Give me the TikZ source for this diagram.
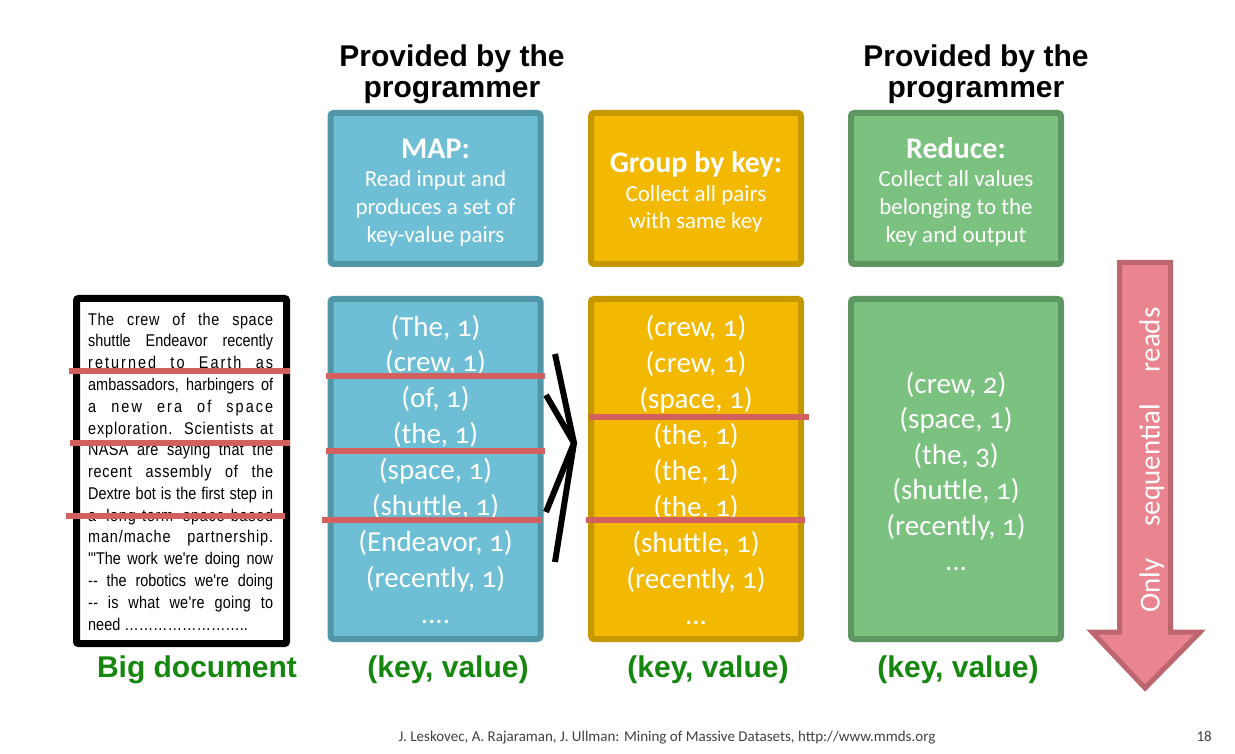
\documentclass[tikz,border=0pt]{standalone}
\usepackage{fontspec}
\usepackage{graphicx}
\setmainfont{Carlito}[Numbers=OldStyle]
\newfontfamily\headfont{Liberation Sans}
\newfontfamily\docfont{Liberation Sans}[Ligatures=ResetAll]
\newfontfamily\footfont{Carlito}

\definecolor{mapfill}{RGB}{110,191,213}
\definecolor{mapedge}{RGB}{81,150,167}
\definecolor{grpfill}{RGB}{242,185,0}
\definecolor{grpedge}{RGB}{198,152,0}
\definecolor{redfill}{RGB}{123,193,127}
\definecolor{rededge}{RGB}{94,151,98}
\definecolor{cutred}{RGB}{209,96,94}
\definecolor{arrowfill}{RGB}{234,132,143}
\definecolor{arrowedge}{RGB}{190,102,111}
\definecolor{labelgreen}{RGB}{22,135,14}
\definecolor{footgray}{RGB}{64,64,64}

\tikzset{
  stagebox/.style={rounded corners=3pt, line width=6pt, minimum width=210pt, inner sep=0pt},
  mapbox/.style={stagebox, fill=mapfill, draw=mapedge},
  grpbox/.style={stagebox, fill=grpfill, draw=grpedge},
  redbox/.style={stagebox, fill=redfill, draw=rededge},
  toptall/.style={minimum height=151pt},
  lowtall/.style={minimum height=340pt},
  docbox/.style={draw=black, line width=7pt, fill=white, rounded corners=2pt,
    minimum width=210pt, minimum height=345pt, inner sep=0pt},
  pairtext/.style={text=white, anchor=base, inner sep=0pt, font=\fontsize{29}{35}\selectfont},
  titletext/.style={text=white, anchor=base, inner sep=0pt, font=\bfseries\fontsize{30}{32}\selectfont},
  desctext/.style={text=white, anchor=base, inner sep=0pt, font=\fontsize{23}{28}\selectfont},
  headtext/.style={anchor=base, inner sep=0pt, font=\headfont\bfseries\fontsize{30}{31}\selectfont},
  greenlabel/.style={anchor=base, inner sep=0pt, text=labelgreen, font=\headfont\bfseries\fontsize{30}{31}\selectfont},
  cutline/.style={draw=cutred, line width=6pt},
  chevron/.style={draw=black, line width=6pt, line join=miter},
  foottext/.style={inner sep=0pt, text=footgray, font=\footfont\fontsize{15}{16}\selectfont},
}

% one justified line of the input document, with optional letter spacing
\newcommand{\docline}[2][0]{\makebox[217.6pt][s]{\addfontfeatures{LetterSpace=#1}#2}}
\newcommand{\fourdots}{.\kern0pt.\kern0pt.\kern0pt.}
\newcommand{\threedots}{.\kern0pt.\kern0pt.}

\begin{document}
\begin{tikzpicture}[x=1pt,y=-1pt]
\useasboundingbox (0,0) rectangle (1235,754);

% column headings
\node[headtext] (head1a) at (452,67) {Provided by the};
\node[headtext] (head1b) at (452,98) {programmer};
\node[headtext] (head2a) at (976,67) {Provided by the};
\node[headtext] (head2b) at (976,98) {programmer};

% stage boxes
\node[mapbox, toptall] (maptop) at (435.5,188.5) {};
\node[grpbox, toptall] (grptop) at (696,188.5) {};
\node[redbox, toptall] (redtop) at (956,188.5) {};
\node[mapbox, lowtall] (maplow) at (435.5,469) {};
\node[grpbox, lowtall] (grplow) at (696,469) {};
\node[redbox, lowtall] (redlow) at (956,469) {};

% stage descriptions
\node[titletext] (maptitle) at (435.5,159) {MAP:};
\node[desctext] (mapd1) at (435.5,187) {Read input and};
\node[desctext] (mapd2) at (435.5,215) {produces a set of};
\node[desctext] (mapd3) at (435.5,243) {key-value pairs};

\node[titletext] (grptitle) at (696,173) {Group by key:};
\node[desctext] (grpd1) at (696,202) {Collect all pairs};
\node[desctext] (grpd2) at (696,229) {with same key};

\node[titletext] (redtitle) at (956,159) {Reduce:};
\node[desctext] (redd1) at (956,187) {Collect all values};
\node[desctext] (redd2) at (956,215) {belonging to the};
\node[desctext] (redd3) at (956,243) {key and output};

% key-value pairs
\foreach \t [count=\i] in {{(The, 1)},{(crew, 1)},{(of, 1)},{(the, 1)},{(space, 1)},{(shuttle, 1)},{(Endeavor, 1)},{(recently, 1)},{\fourdots}}
  \node[pairtext] (mappair\i) at (435.5,{336+35.9*(\i-1)}) {\t};
\foreach \t [count=\i] in {{(crew, 1)},{(crew, 1)},{(space, 1)},{(the, 1)},{(the, 1)},{(the, 1)},{(shuttle, 1)},{(recently, 1)},{\threedots}}
  \node[pairtext] (grppair\i) at (696,{337+35.9*(\i-1)}) {\t};
\foreach \t [count=\i] in {{(crew, 2)},{(space, 1)},{(the, 3)},{(shuttle, 1)},{(recently, 1)},{\threedots}}
  \node[pairtext] (redpair\i) at (956,{393+35.5*(\i-1)}) {\t};

% input document
\node[docbox] (doc) at (181.5,471) {};
\node[anchor=base west, inner sep=0pt] (doctext) at (88,325) {\scalebox{0.85}[1]{%
  \parbox[t]{217.6pt}{\docfont\fontsize{17}{21.8}\selectfont
  \docline[4]{The crew of the space}\\
  \docline{shuttle Endeavor recently}\\
  \docline[14]{returned to Earth as}\\
  \docline{ambassadors, harbingers of}\\
  \docline[14]{a new era of space}\\
  \docline[6]{exploration. Scientists at}\\
  \docline[2]{NASA are saying that the}\\
  \docline[5]{recent assembly of the}\\
  \docline{Dextre bot is the first step in}\\
  \docline[5]{a long-term space-based}\\
  \docline[6]{man/mache partnership.}\\
  \docline{'"The work we're doing now}\\
  \docline{-- the robotics we're doing}\\
  \docline[2]{-- is what we're going to}\\
  \makebox[217.6pt][l]{need ……………………..}}}};

% chunk boundaries
\draw[cutline] (69,371) -- (290,371);
\draw[cutline] (70,443) -- (290,443);
\draw[cutline] (66,516) -- (285,516);
\draw[cutline] (326,376) -- (545,376);
\draw[cutline] (326,451) -- (545,451);
\draw[cutline] (322,520) -- (541,520);
\draw[cutline] (589,417) -- (809,417);
\draw[cutline] (586,520) -- (805,520);

% shuffle chevron between map and group
\coordinate (apex) at (574,443);
\coordinate (chA) at (555,354);
\coordinate (chB) at (546,395);
\coordinate (chC) at (546,512);
\coordinate (chD) at (555,562);
\draw[chevron] (chA) -- (apex) -- (chD);
\draw[chevron] (chB) -- (apex) -- (chC);

% bottom labels
\node[greenlabel] (biglabel) at (197,677) {Big document};
\node[greenlabel] (kv1) at (448,677) {(key, value)};
\node[greenlabel] (kv2) at (708,677) {(key, value)};
\node[greenlabel] (kv3) at (958,677) {(key, value)};

% sequential read arrow, with a soft shadow
\fill[black, opacity=0.22] (1122,264.5) -- (1173,264.5) -- (1173,634) -- (1202,634) -- (1147,690) -- (1094,634) -- (1122,634) -- cycle;
\draw[fill=arrowfill, draw=arrowedge, line width=5pt, line join=miter]
  (1119.5,262.5) -- (1170.5,262.5) -- (1170.5,632) -- (1200,632) -- (1145,688) -- (1092,632) -- (1119.5,632) -- cycle;
\node[rotate=90, text=white, inner sep=0pt, font=\fontsize{29}{30}\selectfont] (seqtext) at (1152,460)
  {\makebox[305pt][s]{Only sequential reads}};

% footer
\node[foottext, anchor=base] (footer) at (667,741)
  {J. Leskovec, A. Rajaraman, J. Ullman: Mining of Massive Datasets, http://www.mmds.org};
\node[foottext, anchor=base east] (pagenum) at (1212,741) {18};
\end{tikzpicture}
\end{document}
